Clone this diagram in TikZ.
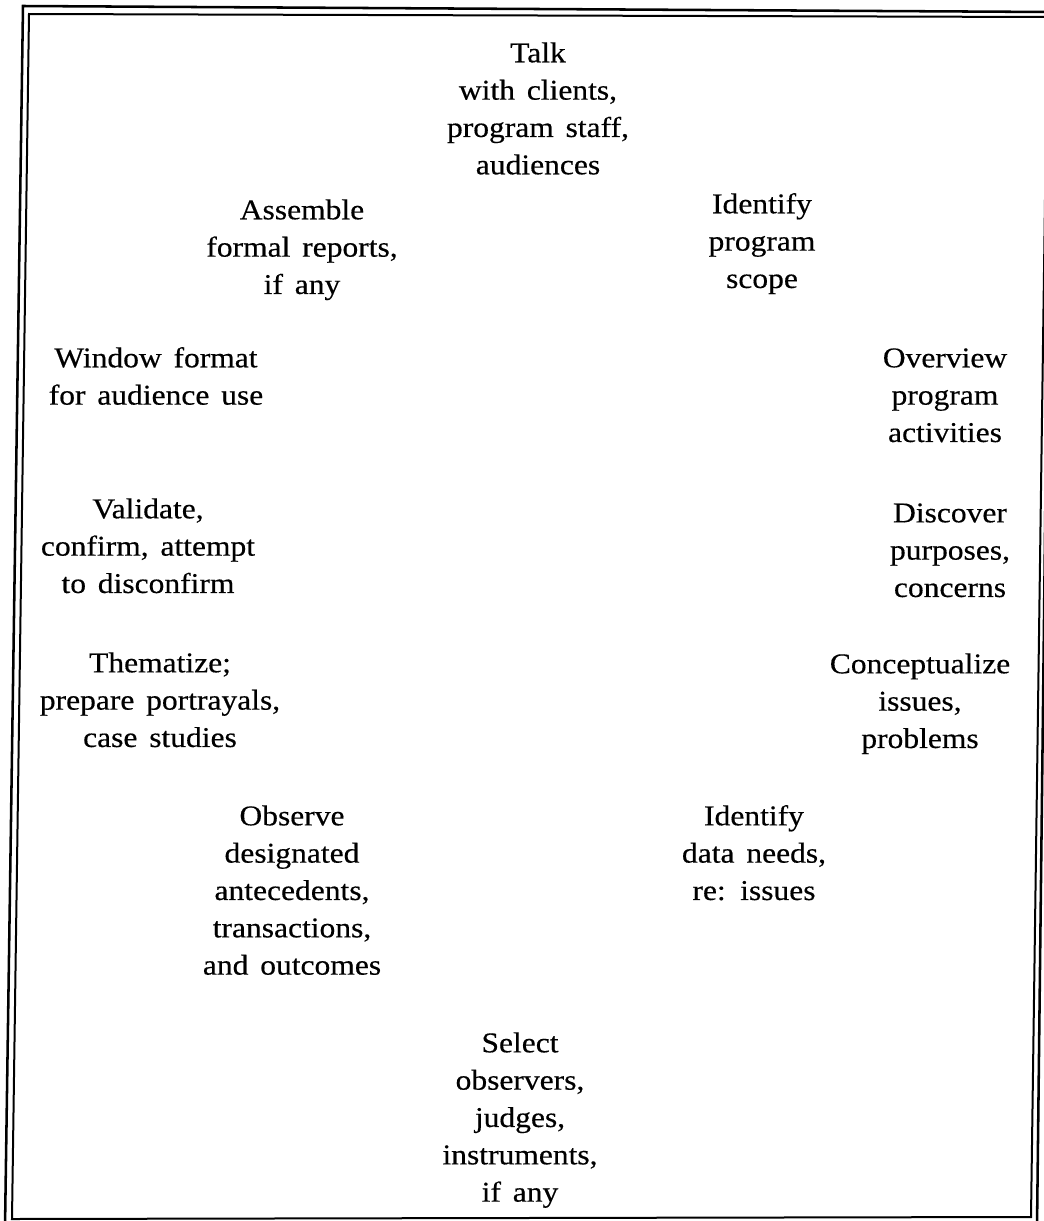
\documentclass[tikz,border=0pt]{standalone}
\usepackage{fontspec}
\setmainfont{Liberation Serif}[FakeStretch=1.1, WordSpace=1.5, FakeBold=0.4]
\begin{document}
\begin{tikzpicture}[x=0.75pt,y=-0.75pt,
  lbl/.style={anchor=north, inner sep=0pt, align=center, font=\fontsize{21.5pt}{28pt}\selectfont},
  outerframe/.style={line width=1.9pt, line join=miter},
  innerframe/.style={line width=1.5pt, line join=miter}]
\useasboundingbox (0,0) rectangle (1044,1221);
\begin{scope}
\clip (0,0) rectangle (1044,1221);
\draw[outerframe] (23,6) -- (1051,12) -- (1037,1228) -- (5,1228) -- cycle;
\draw[innerframe] (29,14) -- (1047.5,17) -- (1031,1217) -- (12,1219) -- cycle;
\end{scope}
\node[lbl] (talk) at (538,35.9) {\strut Talk\\with clients,\\program staff,\\audiences};
\node[lbl] (scope) at (762,186.9) {\strut Identify\\program\\scope};
\node[lbl] (overview) at (945,340.9) {\strut Overview\\program\\activities};
\node[lbl] (discover) at (950,495.9) {\strut Discover\\purposes,\\concerns};
\node[lbl] (concept) at (920,646.9) {\strut Conceptualize\\issues,\\problems};
\node[lbl] (dataneeds) at (754,798.9) {\strut Identify\\data needs,\\re: issues};
\node[lbl] (select) at (520,1025.9) {\strut Select\\observers,\\judges,\\instruments,\\if any};
\node[lbl] (observe) at (292,798.9) {\strut Observe\\designated\\antecedents,\\transactions,\\and outcomes};
\node[lbl] (thematize) at (160,645.9) {\strut Thematize;\\prepare portrayals,\\case studies};
\node[lbl] (validate) at (148,491.9) {\strut Validate,\\confirm, attempt\\to disconfirm};
\node[lbl] (window) at (156,340.9) {\strut Window format\\for audience use};
\node[lbl] (assemble) at (302,192.9) {\strut Assemble\\formal reports,\\if any};
\end{tikzpicture}
\end{document}
